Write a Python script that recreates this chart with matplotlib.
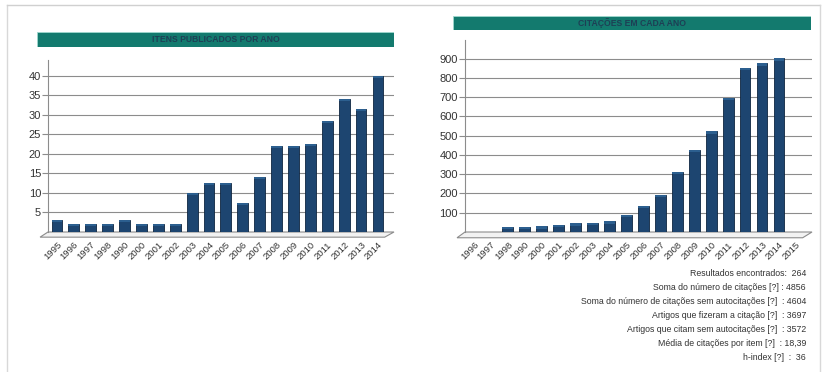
import matplotlib
matplotlib.use("Agg")
import matplotlib.pyplot as plt
from matplotlib.patches import Rectangle, Polygon

plt.rcParams['font.family'] = ['Liberation Sans', 'DejaVu Sans']

# --- data ---
itens_anos = ["1995", "1996", "1997", "1998", "1990", "2000", "2001", "2002", "2003", "2004",
              "2005", "2006", "2007", "2008", "2009", "2010", "2011", "2012", "2013", "2014"]
itens_vals = [3, 2, 2, 2, 3, 2, 2, 2, 10, 12.5, 12.5, 7.5, 14, 22, 22, 22.5, 28.5, 34, 31.5, 40]

cit_anos = ["1996", "1997", "1998", "1990", "2000", "2001", "2002", "2003", "2004", "2005",
            "2006", "2007", "2008", "2009", "2010", "2011", "2012", "2013", "2014", "2015"]
cit_vals = [0, 0, 25, 25, 30, 38, 45, 48, 55, 88, 135, 192, 312, 428, 522, 698, 852, 875, 902, 0]

stats = [
    "Resultados encontrados:  264",
    "Soma do número de citações [?] : 4856",
    "Soma do número de citações sem autocitações [?]  : 4604",
    "Artigos que fizeram a citação [?]  : 3697",
    "Artigos que citam sem autocitações [?]  : 3572",
    "Média de citações por item [?]  : 18,39",
    "h-index [?]  :  36",
]

W, H = 823, 372
fig = plt.figure(figsize=(W / 100, H / 100), dpi=100)
fig.patch.set_facecolor("white")

bar_col = "#1d4570"
grid_col = "#8c8c8c"
teal = "#137a6e"


def px(x0, y0, x1, y1):
    # pixel box -> figure fraction [left, bottom, width, height]
    return [x0 / W, 1 - y1 / H, (x1 - x0) / W, (y1 - y0) / H]


def draw_chart(rect, labels, vals, ymax, yticks, bar_rect, title):
    ax = fig.add_axes(rect)
    xs = list(range(len(labels)))
    ax.set_xlim(-0.53, len(labels) - 0.05)
    ax.set_ylim(0, ymax)
    for t in yticks:
        ax.axhline(t, color=grid_col, lw=0.8, zorder=1)
    ax.bar(xs, vals, width=0.64, color=bar_col, edgecolor="#0e2540", linewidth=0.6, zorder=3)
    # lighter cap on each bar for the 3D look
    for x, v in zip(xs, vals):
        if v > 0:
            ax.add_patch(Rectangle((x - 0.32, v - ymax * 0.012), 0.64, ymax * 0.012,
                                   color="#2c5f8f", zorder=4, lw=0))
    # floor
    floor = Polygon([(-0.53, 0), (len(labels) - 0.05, 0), (len(labels) - 0.6, -ymax * 0.03),
                     (-1.0, -ymax * 0.03)], closed=True, facecolor="#f2f2f2",
                    edgecolor=grid_col, lw=0.8, clip_on=False, zorder=2)
    ax.add_patch(floor)
    ax.set_yticks(yticks)
    ax.set_xticks(xs)
    ax.set_xticklabels(labels, rotation=45, ha="right", rotation_mode="anchor", fontsize=6.8,
                       color="#333333")
    ax.tick_params(axis="x", length=0, pad=6)
    ax.tick_params(axis="y", length=4, color=grid_col, labelsize=8, labelcolor="#333333", pad=1)
    for s in ["top", "right", "bottom"]:
        ax.spines[s].set_visible(False)
    ax.spines["left"].set_color(grid_col)
    ax.set_facecolor("none")

    tb = fig.add_axes(bar_rect)
    tb.set_xlim(0, 1)
    tb.set_ylim(0, 1)
    tb.axis("off")
    tb.add_patch(Rectangle((0, 0), 1, 1, facecolor=teal, edgecolor="#9fd8cf", lw=0.6))
    tb.text(0.5, 0.5, title, ha="center", va="center", fontsize=6.2, fontweight="bold",
            color="#1e3f55")
    return ax


draw_chart(px(48, 60, 394, 232), itens_anos, itens_vals, 44,
           [5, 10, 15, 20, 25, 30, 35, 40], px(37, 32, 394, 47), "ITENS PUBLICADOS POR ANO")
draw_chart(px(465, 40, 812, 232), cit_anos, cit_vals, 997,
           [100, 200, 300, 400, 500, 600, 700, 800, 900], px(453, 16, 811, 30),
           "CITAÇÕES EM CADA ANO")

for i, s in enumerate(stats):
    fig.text(806 / W, 1 - (273 + i * 14) / H, s, ha="right", va="center", fontsize=6.3,
             color="#333333")

# page frame from the screenshot
frame = fig.add_axes([0, 0, 1, 1], zorder=-1)
frame.set_xlim(0, W)
frame.set_ylim(H, 0)
frame.axis("off")
frame.plot([7, 7], [5, H], color="#d8d8d8", lw=1)
frame.plot([7, 820], [5, 5], color="#d0d0d0", lw=1)
frame.plot([820, 820], [5, H], color="#d8d8d8", lw=1)

fig.savefig("out.png", dpi=100, facecolor="white")
